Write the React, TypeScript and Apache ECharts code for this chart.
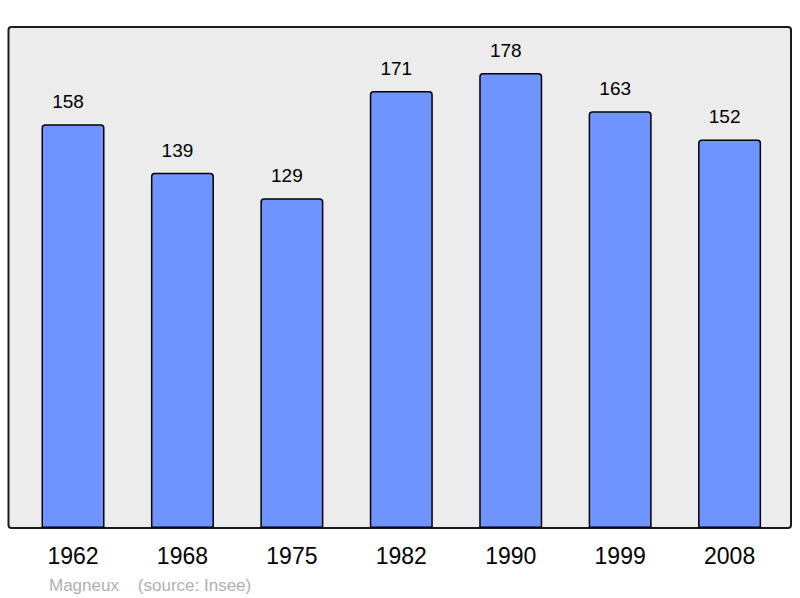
import React, { useEffect, useRef } from "react";
import * as echarts from "echarts";

const years = ["1962", "1968", "1975", "1982", "1990", "1999", "2008"];
const population = [158, 139, 129, 171, 178, 163, 152];
const footer = "Magneux    (source: Insee)";

export default function App() {
  const ref = useRef<HTMLDivElement>(null);
  useEffect(() => {
    const chart = echarts.init(ref.current!, null, { renderer: "svg" });
    chart.setOption({
      animation: false,
      textStyle: { fontFamily: "Liberation Sans, Arial, sans-serif" },
      grid: { left: 18.3, width: 766, top: 16.8, height: 511.2 },
      graphic: [
        {
          type: "rect",
          z: -10,
          shape: { x: 8.5, y: 27, width: 782.5, height: 501, r: 3 },
          style: { fill: "#ececec", stroke: "#1a1a1a", lineWidth: 2 },
          silent: true,
        },
        {
          type: "text",
          left: 49,
          top: 577,
          style: {
            text: footer,
            fill: "#b0b0b0",
            fontSize: 17,
            fontFamily: "Liberation Sans, Arial, sans-serif",
          },
        },
      ],
      xAxis: {
        type: "category",
        data: years,
        axisLine: { show: false },
        axisTick: { show: false },
        axisLabel: {
          color: "#000",
          fontSize: 23,
          margin: 16,
          fontFamily: "Liberation Sans, Arial, sans-serif",
        },
      },
      yAxis: {
        type: "value",
        min: 0,
        max: 200,
        show: false,
        splitLine: { show: false },
      },
      series: [
        {
          type: "bar",
          data: population,
          barWidth: 63,
          itemStyle: {
            color: "#7094ff",
            borderColor: "#000",
            borderWidth: 1.5,
            borderRadius: [3, 3, 0, 0],
          },
          label: {
            show: true,
            position: "top",
            distance: 13,
            offset: [-5, 0],
            color: "#000",
            fontSize: 19,
            fontFamily: "Liberation Sans, Arial, sans-serif",
          },
        },
      ],
    });
    return () => chart.dispose();
  }, []);
  return <div ref={ref} style={{ width: 800, height: 598, position: "absolute", left: 0, top: 0 }} />;
}
